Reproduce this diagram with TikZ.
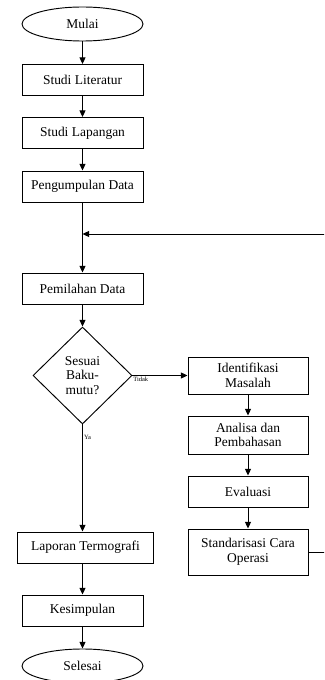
\documentclass[tikz,border=0pt]{standalone}
\usepackage{fontspec}
\setmainfont{Liberation Serif}
\usetikzlibrary{arrows.meta,shapes.geometric}

\begin{document}
\begin{tikzpicture}[x=0.03cm,y=-0.03cm]
\tikzset{
  flowbox/.style={rectangle,draw,thick,minimum width=3.63cm,minimum height=0.93cm,align=center,inner sep=1pt,font=\fontsize{11.5}{12.5}\selectfont},
  terminal/.style={ellipse,draw,thick,minimum width=3.63cm,minimum height=1.02cm,inner sep=0pt,font=\fontsize{11.5}{12.5}\selectfont},
  decision/.style={diamond,draw,thick,minimum width=2.97cm,minimum height=2.91cm,inner sep=0pt,align=center,font=\fontsize{11.5}{12.5}\selectfont},
  flowarrow/.style={-{Triangle[length=2mm,width=1.8mm]},thick},
  smalllabel/.style={font=\fontsize{5.5}{6}\selectfont,inner sep=1pt}
}
\useasboundingbox (0,0) rectangle (324,680);
\clip (0,0) rectangle (324,680);
\node[terminal] (n_mulai) at (82.5,24) {Mulai};
\node[flowbox] (n_literatur) at (82.5,80) {Studi Literatur};
\node[flowbox] (n_lapangan) at (82.5,133) {Studi Lapangan};
\node[flowbox] (n_pengumpulan) at (82.5,186.5) {Pengumpulan Data};
\node[flowbox] (n_pemilahan) at (82.5,288.5) {Pemilahan Data};
\node[decision] (n_sesuai) at (82.5,375.5) {Sesuai\\Baku-\\mutu?};
\node[flowbox,minimum width=3.6cm,minimum height=1.11cm] (n_identifikasi) at (248,375.5) {Identifikasi\\Masalah};
\node[flowbox,minimum width=3.6cm,minimum height=1.14cm] (n_analisa) at (248,435) {Analisa dan\\Pembahasan};
\node[flowbox,minimum width=3.6cm] (n_evaluasi) at (248,491.5) {Evaluasi};
\node[flowbox,minimum width=3.6cm,minimum height=1.38cm] (n_standar) at (248,552) {Standarisasi Cara\\Operasi};
\node[flowbox,minimum width=4.08cm] (n_laporan) at (85.5,547.5) {Laporan Termografi};
\node[flowbox] (n_kesimpulan) at (82.5,610.5) {Kesimpulan};
\node[terminal] (n_selesai) at (82.5,666) {Selesai};
\coordinate (c_join) at (82.5,234);
\coordinate (c_rail) at (326,0);
\draw[flowarrow] (n_mulai) -- (n_literatur);
\draw[flowarrow] (n_literatur) -- (n_lapangan);
\draw[flowarrow] (n_lapangan) -- (n_pengumpulan);
\draw[flowarrow] (n_pengumpulan) -- (n_pemilahan);
\draw[flowarrow] (n_pemilahan) -- (n_sesuai);
\draw[flowarrow] (n_sesuai.east) -- node[smalllabel,below,pos=0.15] {Tidak} (n_identifikasi.west);
\draw[flowarrow] (n_sesuai.south) -- node[smalllabel,right,pos=0.12] {Ya} (n_sesuai.south |- n_laporan.north);
\draw[flowarrow] (n_identifikasi) -- (n_analisa);
\draw[flowarrow] (n_analisa) -- (n_evaluasi);
\draw[flowarrow] (n_evaluasi) -- (n_standar);
\draw[flowarrow] (n_laporan.south -| n_kesimpulan) -- (n_kesimpulan);
\draw[flowarrow] (n_kesimpulan) -- (n_selesai);
\draw[flowarrow] (n_standar.east) -- (n_standar.east -| c_rail) -- (c_rail |- c_join) -- (c_join);
\end{tikzpicture}
\end{document}
